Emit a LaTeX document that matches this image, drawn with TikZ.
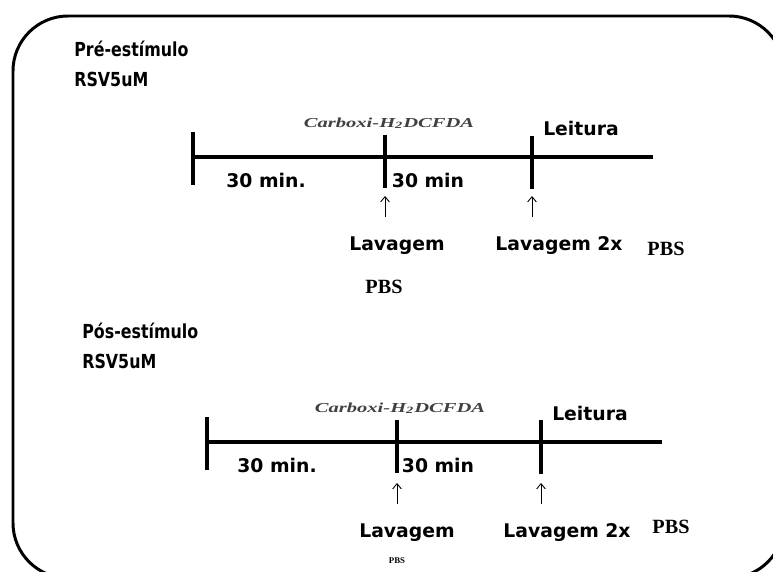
\documentclass[tikz,border=0pt]{standalone}
\usepackage{fontspec}
\setmainfont{Liberation Serif}
\setsansfont{DejaVu Sans}
\newfontfamily\narrowsans[FakeStretch=0.82]{DejaVu Sans}
\newfontfamily\wideserif[FakeStretch=1.5]{Liberation Serif}
\usepackage{tikz}
\usetikzlibrary{arrows.meta}
\tikzset{>=latex}
\tikzset{
  tline/.style={line width=1.8pt},
  wash/.style={-{Straight Barb[length=3pt,width=5pt]}, line width=0.5pt},
  ttl/.style={font=\narrowsans\bfseries\fontsize{11}{13}\selectfont, anchor=base west, inner sep=0pt},
  lbl/.style={font=\sffamily\bfseries\fontsize{10.7}{12}\selectfont, anchor=base, inner sep=0pt},
  pbs/.style={font=\rmfamily\bfseries\fontsize{11.5}{13}\selectfont, anchor=base, inner sep=0pt},
  dye/.style={font=\wideserif\bfseries\itshape\fontsize{7.8}{9}\selectfont, text=black!75, anchor=base, inner sep=0pt}
}

\begin{document}
\begin{tikzpicture}[x=0.02cm, y=-0.02cm]
    \useasboundingbox (0,0) rectangle (773,571);
    \begin{scope}
      \clip (0,0) rectangle (773,571);
      \draw[line width=1.7pt, rounded corners=1.1cm] (13,16) rectangle (784,578);
    \end{scope}

    % pre-estimulo
    \node[ttl] (T1) at (74,57) {Pré-estímulo};
    \node[ttl] (R1) at (74,87) {RSV5uM};

    \coordinate (A1) at (193,157);
    \coordinate (B1) at (385,157);
    \coordinate (C1) at (532,157);
    \coordinate (E1) at (653,157);
    \draw[tline] (A1) -- (E1);
    \draw[tline] (A1) ++(0,-25) -- ++(0,53);
    \draw[tline] (B1) ++(0,-22) -- ++(0,53);
    \draw[tline] (C1) ++(0,-21) -- ++(0,53);

    \coordinate (U1) at (385,217);
    \coordinate (V1) at (385,196);
    \coordinate (X1) at (532,217);
    \coordinate (Y1) at (532,196);
    \path[wash] (U1) edge (V1);
    \path[wash] (X1) edge (Y1);

    \node[dye] (D1) at (389,127) {Carboxi-H\textsubscript{2}DCFDA};
    \node[lbl] (L1) at (581,135) {Leitura};
    \node[lbl] (M1) at (266,187) {30 min.};
    \node[lbl] (N1) at (428,187) {30 min};
    \node[lbl] (W1) at (397,250) {Lavagem};
    \node[lbl] (Z1) at (559,250) {Lavagem 2x};
    \node[pbs] (P1) at (666,255) {PBS};
    \node[pbs] (Q1) at (384,293) {PBS};

    % pos-estimulo
    \node[ttl] (T2) at (82,338) {Pós-estímulo};
    \node[ttl] (R2) at (82,368) {RSV5uM};

    \coordinate (A2) at (207,442);
    \coordinate (B2) at (397,442);
    \coordinate (C2) at (541,442);
    \coordinate (E2) at (662,442);
    \draw[tline] (A2) -- (E2);
    \draw[tline] (A2) ++(0,-25) -- ++(0,53);
    \draw[tline] (B2) ++(0,-22) -- ++(0,53);
    \draw[tline] (C2) ++(0,-22) -- ++(0,54);

    \coordinate (U2) at (397,504);
    \coordinate (V2) at (397,483);
    \coordinate (X2) at (541,504);
    \coordinate (Y2) at (541,483);
    \path[wash] (U2) edge (V2);
    \path[wash] (X2) edge (Y2);

    \node[dye] (D2) at (400,412) {Carboxi-H\textsubscript{2}DCFDA};
    \node[lbl] (L2) at (590,420) {Leitura};
    \node[lbl] (M2) at (277,472) {30 min.};
    \node[lbl] (N2) at (438,472) {30 min};
    \node[lbl] (W2) at (407,537) {Lavagem};
    \node[lbl] (Z2) at (567,537) {Lavagem 2x};
    \node[pbs] (P2) at (671,533) {PBS};
    \node[pbs, font=\rmfamily\bfseries\fontsize{5}{6}\selectfont] (Q2) at (397,563) {PBS};
\end{tikzpicture}
\end{document}
